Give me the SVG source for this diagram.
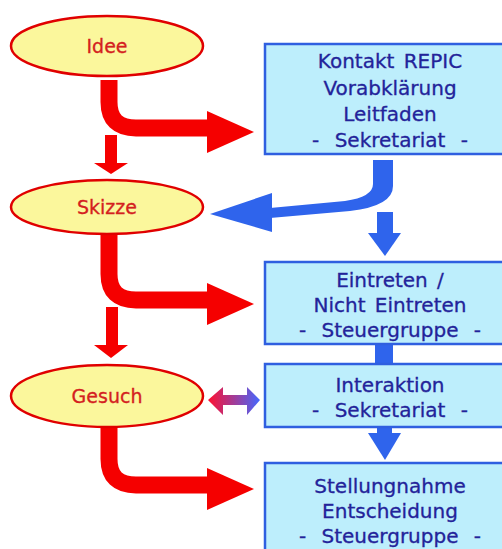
<svg xmlns="http://www.w3.org/2000/svg" width="502" height="549" viewBox="0 0 502 549">
<defs>
<style>
.ell{fill:#fbf79c;stroke:#e00000;stroke-width:2.5}
.ellt{font-family:"DejaVu Sans",sans-serif;font-size:19px;fill:#d42020;text-anchor:middle;stroke:#d42020;stroke-width:0.3}
.box{fill:#bdeefc;stroke:#2f5fe0;stroke-width:2.5}
.bt{font-family:"DejaVu Sans",sans-serif;font-size:20px;fill:#23239a;text-anchor:middle;word-spacing:3px;stroke:#23239a;stroke-width:0.3}
.bt .d{word-spacing:9px}
.red{fill:#f50000}
.redl{fill:none;stroke:#f50000;stroke-width:17}
.blue{fill:#2f64ec}
</style>
<linearGradient id="rb" x1="0" y1="0" x2="1" y2="0">
<stop offset="0" stop-color="#ff1030"/>
<stop offset="1" stop-color="#4468ff"/>
</linearGradient>
</defs>
<rect width="502" height="549" fill="#ffffff"/>
<g id="connectors">
<path class="redl" d="M109,80 V102 Q109,128 136,128 H210"/>
<polygon class="red" points="207,111 207,153 254,132"/>
<rect class="red" x="105" y="135" width="12" height="28"/>
<polygon class="red" points="94,163 128,163 111,174"/>
<path class="redl" d="M109,234 V274 Q109,300 136,300 H210"/>
<polygon class="red" points="207,283 207,325 254,304"/>
<rect class="red" x="106" y="307" width="12" height="38"/>
<polygon class="red" points="94,345 128,345 111,358"/>
<path class="redl" d="M109,427 V459 Q109,485 136,485 H210"/>
<polygon class="red" points="207,468 207,510 254,489"/>
<path class="blue" d="M373,160 H393 V186 Q393,206 350,211 L270,218 L270,208 L345,201 Q373,197 373,184 Z"/>
<polygon class="blue" points="272,193 272,232 210,214"/>
<rect class="blue" x="377" y="212" width="16" height="22"/>
<polygon class="blue" points="368,233 401,233 385,256"/>
<rect class="blue" x="375" y="343" width="18" height="21"/>
<rect class="blue" x="377" y="426" width="15" height="8"/>
<polygon class="blue" points="368,433 401,433 385,460"/>
<polygon fill="url(#rb)" points="208,400 223,387 223,395 247,395 247,387 260,400 247,415 247,405 223,405 223,415"/>
</g>
<g id="idee">
<ellipse class="ell" cx="107" cy="46" rx="96" ry="30"/>
<text class="ellt" x="107" y="53">Idee</text>
</g>
<g id="skizze">
<ellipse class="ell" cx="107" cy="207" rx="96" ry="27"/>
<text class="ellt" x="107" y="214">Skizze</text>
</g>
<g id="gesuch">
<ellipse class="ell" cx="107" cy="396" rx="96" ry="31"/>
<text class="ellt" x="107" y="403">Gesuch</text>
</g>
<g id="kontakt">
<rect class="box" x="265" y="44" width="250" height="110"/>
<text class="bt" x="390" y="68">Kontakt REPIC</text>
<text class="bt" x="390" y="95">Vorabklärung</text>
<text class="bt" x="390" y="121">Leitfaden</text>
<text class="bt" x="390" y="147"><tspan class="d">- Sekretariat -</tspan></text>
</g>
<g id="eintreten">
<rect class="box" x="265" y="262" width="250" height="82"/>
<text class="bt" x="390" y="287">Eintreten /</text>
<text class="bt" x="390" y="312">Nicht Eintreten</text>
<text class="bt" x="390" y="337"><tspan class="d">- Steuergruppe -</tspan></text>
</g>
<g id="interaktion">
<rect class="box" x="265" y="364" width="250" height="63"/>
<text class="bt" x="390" y="392">Interaktion</text>
<text class="bt" x="390" y="417"><tspan class="d">- Sekretariat -</tspan></text>
</g>
<g id="stellungnahme">
<rect class="box" x="265" y="463" width="250" height="100"/>
<text class="bt" x="390" y="493">Stellungnahme</text>
<text class="bt" x="390" y="518">Entscheidung</text>
<text class="bt" x="390" y="543"><tspan class="d">- Steuergruppe -</tspan></text>
</g>
</svg>
